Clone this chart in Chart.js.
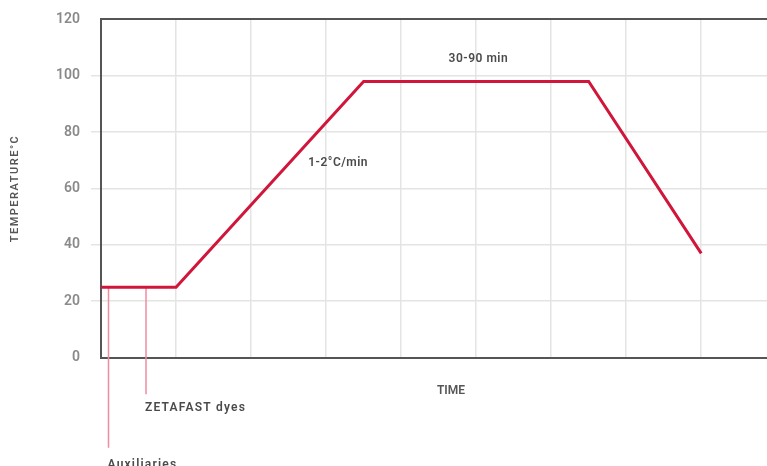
<!DOCTYPE html>
<html>
<head>
<meta charset="utf-8">
<script src="https://cdn.jsdelivr.net/npm/chart.js@4/dist/chart.umd.min.js"></script>
<style>
    html, body { margin: 0; padding: 0; background: #fff; overflow: hidden; }
    /* the original plot runs past the right edge of the picture */
    #wrap { width: 801px; height: 466px; }
</style>
</head>
<body>
<div id="wrap"><canvas id="dyeChart"></canvas></div>
<script>
// ===========================
// Data
// ===========================
const timeSteps = [0, 1, 3.5, 6.5, 8];
const temperatures = [25, 25, 98, 98, 37];
const yTicks = [0, 20, 40, 60, 80, 100, 120];

// dosing markers hanging below the curve
const markerLabels = ['Auxiliaries', 'ZETAFAST dyes'];
const markerTimes = [0.1, 0.6];
const markerTop = [25, 25];
const markerBottom = [-32, -13];
const markerLabelY = [-38, -18];

// notes inside the plot
const noteTexts = ['30-90 min', '1-2°C/min'];
const noteTimes = [5.03, 3.16];
const noteTemps = [106, 69];

const RED = '#d0173b';
const PINK = '#ef8ca0';
const AXIS = '#555555';
const GRID = '#e4e4e4';

// ===========================
// Datasets
// ===========================
const datasets = [{
    label: 'Temperature',
    data: timeSteps.map((t, i) => ({ x: t, y: temperatures[i] })),
    borderColor: RED,
    borderWidth: 3,
    pointRadius: 0,
    tension: 0,
    order: 0
}];

markerLabels.forEach((name, i) => {
    datasets.push({
        label: name,
        data: [{ x: markerTimes[i], y: markerTop[i] }, { x: markerTimes[i], y: markerBottom[i] }],
        borderColor: PINK,
        borderWidth: 1.5,
        pointRadius: 0,
        clip: false,
        order: 1
    });
});

// ===========================
// Text annotations plugin
// ===========================
const annotationText = {
    id: 'annotationText',
    afterDatasetsDraw(chart) {
        const { ctx, scales, chartArea } = chart;
        const x = scales.x, y = scales.y;
        ctx.save();
        ctx.fillStyle = '#4a4a4a';
        ctx.textBaseline = 'middle';

        // notes on the curve
        ctx.letterSpacing = '0.5px';
        ctx.font = '600 12px Roboto';
        ctx.textAlign = 'center';
        noteTexts.forEach((txt, i) => {
            ctx.fillText(txt, x.getPixelForValue(noteTimes[i]), y.getPixelForValue(noteTemps[i]));
        });

        // marker labels
        ctx.letterSpacing = '1.2px';
        ctx.textAlign = 'left';
        markerLabels.forEach((txt, i) => {
            ctx.fillText(txt, x.getPixelForValue(markerTimes[i]) - 1, y.getPixelForValue(markerLabelY[i]));
        });

        // y axis title, spaced out like the original
        ctx.letterSpacing = '1.5px';
        ctx.font = '600 11px Roboto';
        ctx.fillStyle = '#555';
        ctx.textAlign = 'center';
        ctx.translate(15, (chartArea.top + chartArea.bottom) / 2);
        ctx.rotate(-Math.PI / 2);
        ctx.fillText('TEMPERATURE°C', 0, 0);
        ctx.restore();
    }
};

// ===========================
// Chart
// ===========================
const ctx = document.getElementById('dyeChart').getContext('2d');
const dyeChart = new Chart(ctx, {
    type: 'line',
    data: { datasets: datasets },
    options: {
        responsive: true,
        maintainAspectRatio: false,
        animation: false,
        layout: { padding: { top: 16, right: 0, bottom: 0, left: 0 } },
        plugins: {
            legend: { display: false },
            tooltip: { enabled: false }
        },
        scales: {
            x: {
                type: 'linear',
                position: 'bottom',
                min: 0,
                max: 9.33,
                ticks: { display: false, stepSize: 1, includeBounds: false },
                grid: { color: GRID, lineWidth: 1.5, drawTicks: false },
                border: { display: true, color: AXIS, width: 2 },
                title: {
                    display: true,
                    text: 'TIME',
                    color: '#555',
                    font: { family: 'Roboto', size: 12, weight: '600' },
                    padding: { top: 26, bottom: 68 }
                }
            },
            x2: {
                type: 'linear',
                position: 'top',
                min: 0,
                max: 9.33,
                ticks: { display: false },
                grid: { display: false, drawTicks: false },
                border: { display: true, color: AXIS, width: 2 }
            },
            y: {
                min: 0,
                max: 120,
                afterBuildTicks: scale => {
                    scale.ticks = yTicks.map(v => ({ value: v }));
                },
                afterFit: scale => {
                    scale.width = 101;
                },
                ticks: {
                    color: '#8a8a8a',
                    padding: 11,
                    font: { family: 'Roboto', size: 14, weight: '600' }
                },
                grid: {
                    color: c => (c.tick && (c.tick.value === 0 || c.tick.value === 120)) ? 'rgba(0,0,0,0)' : GRID,
                    lineWidth: 1.5,
                    tickLength: 10
                },
                border: { display: true, color: AXIS, width: 2 }
            }
        }
    },
    plugins: [annotationText]
});
</script>
</body>
</html>
